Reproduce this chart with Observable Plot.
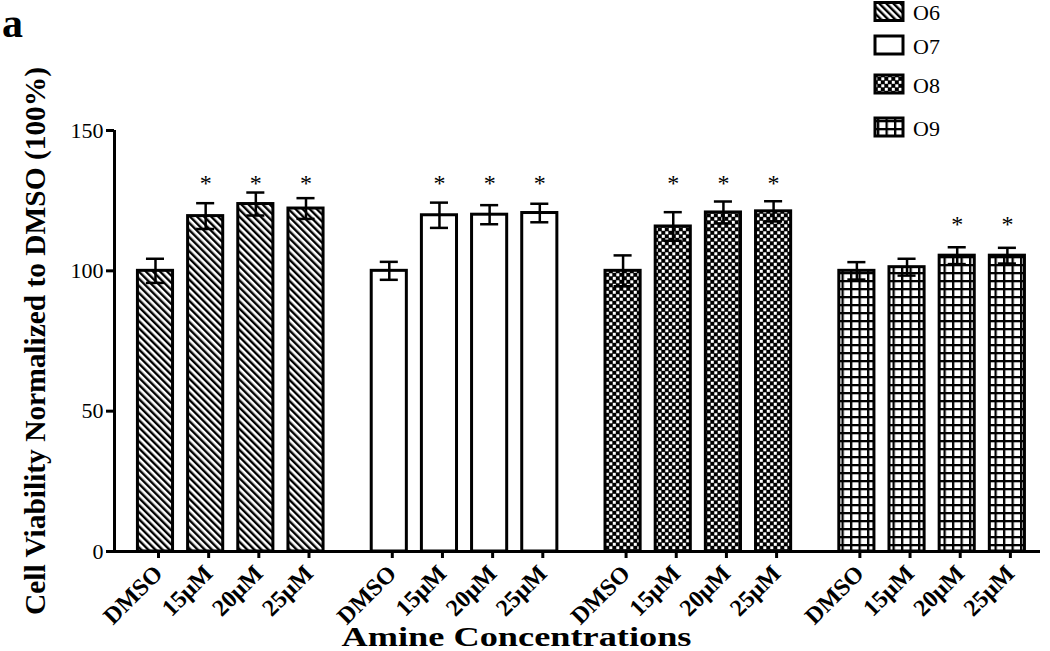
<!DOCTYPE html>
<html>
<head>
<meta charset="utf-8">
<script src="https://cdn.jsdelivr.net/npm/d3@7"></script>
<script src="https://cdn.jsdelivr.net/npm/@observablehq/plot@0.6"></script>
<style>
  body { margin: 0; background: #fff; }
  #wrap { position: relative; width: 1050px; height: 651px; font-family: "Liberation Serif", "Times New Roman", serif; }
  #legend { position: absolute; left: 860px; top: 0; }
  #panel { position: absolute; left: 0; top: 0; }
</style>
</head>
<body>
<svg width="0" height="0" style="position:absolute">
  <defs>
    <pattern id="pO6" patternUnits="userSpaceOnUse" width="5" height="5" patternTransform="rotate(-45)">
      <rect width="5" height="5" fill="white"/>
      <rect width="2.4" height="5" fill="black"/>
    </pattern>
    <pattern id="pO7" patternUnits="userSpaceOnUse" width="5" height="5">
      <rect width="5" height="5" fill="white"/>
    </pattern>
    <pattern id="pO8" patternUnits="userSpaceOnUse" width="7" height="7">
      <rect width="7" height="7" fill="black"/>
      <rect x="0.3" y="0.3" width="3" height="3" fill="white"/>
      <rect x="3.8" y="3.8" width="3" height="3" fill="white"/>
    </pattern>
    <pattern id="pO9" patternUnits="userSpaceOnUse" width="8.5" height="8">
      <rect width="8.5" height="8" fill="white"/>
      <rect width="2.3" height="8" fill="black"/>
      <rect width="8.5" height="2.3" fill="black"/>
    </pattern>
  </defs>
</svg>
<div id="wrap">
  <div id="chart"></div>
  <svg id="panel" width="40" height="50"><text x="2" y="37" font-size="42" font-weight="bold" font-family="Liberation Serif, serif" fill="black">a</text></svg>
  <div id="legend"></div>
</div>
<script>
// ---- data ----
const groups = ["O6", "O7", "O8", "O9"];
const concentrations = ["DMSO", "15μM", "20μM", "25μM"];
const meansO6 = [100, 119.5, 123.8, 122.2];
const meansO7 = [100, 119.8, 120.0, 120.6];
const meansO8 = [100, 115.8, 120.8, 121.2];
const meansO9 = [100, 101.3, 105.4, 105.4];
const errO6 = [4.3, 4.6, 4.1, 3.7];
const errO7 = [3.2, 4.5, 3.4, 3.3];
const errO8 = [5.5, 5.1, 3.9, 3.6];
const errO9 = [3.1, 3.0, 3.0, 2.8];
const sigO6 = [false, true, true, true];
const sigO7 = [false, true, true, true];
const sigO8 = [false, true, true, true];
const sigO9 = [false, false, true, true];
const starLevel = [131.5, 131.5, 131.5, 117];
const yTicks = [0, 50, 100, 150];

const means = [meansO6, meansO7, meansO8, meansO9];
const errs = [errO6, errO7, errO8, errO9];
const sigs = [sigO6, sigO7, sigO8, sigO9];

// ---- layout constants ----
const GROUP_STEP = 4.66;   // group spacing in bar-step units
const HALF = 0.35;         // half bar width (bar-step units)
const CAP = 0.18;          // half error-cap width
const X_DOMAIN = [-0.817, 17.64];

const rows = [];
groups.forEach((g, gi) => concentrations.forEach((c, ci) => rows.push({
  group: g, conc: c, mean: means[gi][ci], err: errs[gi][ci], sig: sigs[gi][ci],
  star: starLevel[gi], pos: gi * GROUP_STEP + ci
})));
const labelAt = new Map(rows.map(d => [d.pos, d.conc]));

const barMarks = groups.map(g => Plot.rectY(rows.filter(d => d.group === g), {
  x1: d => d.pos - HALF, x2: d => d.pos + HALF, y1: 0, y2: "mean",
  fill: `url(#p${g})`, stroke: "black", strokeWidth: 3
}));

const chart = Plot.plot({
  width: 1050, height: 651,
  marginLeft: 114, marginRight: 10, marginTop: 130, marginBottom: 100,
  x: { domain: X_DOMAIN },
  y: { domain: [0, 150] },
  style: { fontFamily: "Liberation Serif, Times New Roman, serif", background: "white", color: "black", overflow: "visible" },
  marks: [
    ...barMarks,
    Plot.ruleX(rows, { x: "pos", y1: d => d.mean - d.err, y2: d => d.mean + d.err, stroke: "black", strokeWidth: 2.5 }),
    Plot.ruleY(rows, { y: d => d.mean + d.err, x1: d => d.pos - CAP, x2: d => d.pos + CAP, stroke: "black", strokeWidth: 2.5 }),
    Plot.ruleY(rows, { y: d => d.mean - d.err, x1: d => d.pos - CAP, x2: d => d.pos + CAP, stroke: "black", strokeWidth: 2.5 }),
    Plot.text(rows.filter(d => d.sig), { x: "pos", y: "star", text: () => "*", fontSize: 24, lineAnchor: "middle", dy: 1, fill: "black" }),
    Plot.ruleY([0], { stroke: "black", strokeWidth: 3 }),
    Plot.ruleX([X_DOMAIN[0]], { y1: 0, y2: 150, stroke: "black", strokeWidth: 3 }),
    Plot.axisY({ ticks: yTicks, tickSize: 8, tickPadding: 3, fontSize: 22, strokeWidth: 3, label: null }),
    Plot.axisX({ ticks: rows.map(d => d.pos), tickFormat: d => labelAt.get(d), tickRotate: -45, tickSize: 7, tickPadding: 11, dx: 3, fontSize: 24, fontWeight: "bold", strokeWidth: 3, label: null }),
    Plot.text(["Amine Concentrations"], { frameAnchor: "bottom", dx: -61, dy: 94, lineAnchor: "bottom", fontSize: 27, fontWeight: "bold", fill: "black" }),
    Plot.text(["Cell Viability Normalized to DMSO (100%)"], { frameAnchor: "left", textAnchor: "middle", rotate: -90, dx: -70, lineAnchor: "bottom", fontSize: 30, fontWeight: "bold", fill: "black" })
  ]
});
document.getElementById("chart").appendChild(chart);

// stretch long titles to the reference lengths
d3.select(chart).selectAll("text").each(function () {
  const t = this.textContent;
  if (t === "Amine Concentrations") { this.setAttribute("textLength", 350); this.setAttribute("lengthAdjust", "spacingAndGlyphs"); }
  if (t === "Cell Viability Normalized to DMSO (100%)") { this.setAttribute("textLength", 548); this.setAttribute("lengthAdjust", "spacingAndGlyphs"); }
});

// ---- legend ----
const legendCenters = [11.5, 45, 84, 127];
const leg = d3.select("#legend").append("svg").attr("width", 190).attr("height", 145);
groups.forEach((g, i) => {
  leg.append("rect").attr("x", 15).attr("y", legendCenters[i] - 9).attr("width", 28).attr("height", 18)
    .attr("fill", `url(#p${g})`).attr("stroke", "black").attr("stroke-width", 3);
  leg.append("text").attr("x", 53).attr("y", legendCenters[i] + 8.5)
    .attr("font-size", 22).attr("font-family", "Liberation Serif, serif").attr("fill", "black").text(g);
});
</script>
</body>
</html>
